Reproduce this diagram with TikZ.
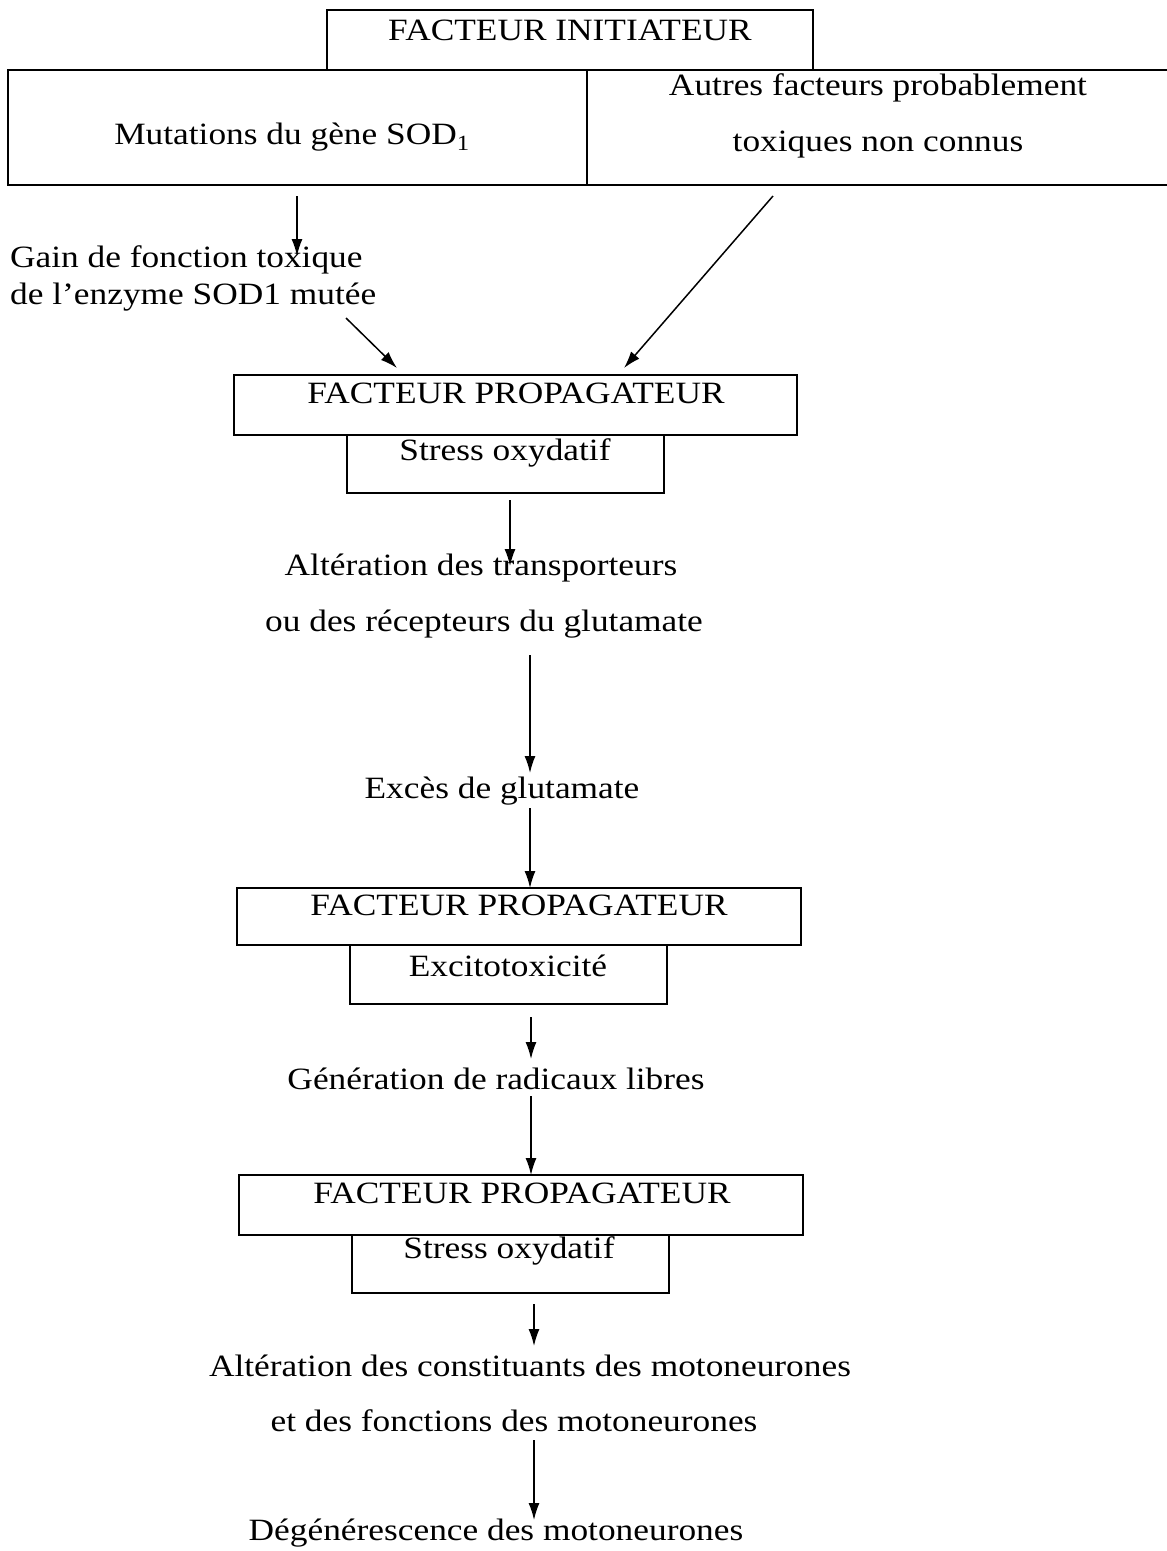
\documentclass[tikz,border=0pt]{standalone}
\usepackage{fontspec}
\setmainfont[FakeStretch=1.14]{Liberation Serif}
\usetikzlibrary{arrows.meta}
\begin{document}
\begin{tikzpicture}[x=1pt,y=-1pt,
  boxline/.style={draw=black,line width=1.9pt},
  txt/.style={inner sep=0pt,font=\fontsize{31}{36}\selectfont},
  arr/.style={line width=1.5pt,-{Latex[length=17pt,width=11pt]}}]
\useasboundingbox (0,0) rectangle (1167,1551);
% top boxes
\draw[boxline] (327,70) -- (327,10) -- (813,10) -- (813,70);
\draw[boxline] (8,70) rectangle (1175,185);
\draw[boxline] (587,70) -- (587,185);
\node[txt] (init) at (570,30) {FACTEUR INITIATEUR};
\node[txt] (mut) at (292,137) {Mutations du gène SOD\textsubscript{1}};
\node[txt] (autres1) at (878,88) {Autres facteurs probablement};
\node[txt] (autres2) at (878,145) {toxiques non connus};
% gain
\node[txt,anchor=west] (gain1) at (10,260) {Gain de fonction toxique};
\node[txt,anchor=west] (gain2) at (10,297) {de l'enzyme SOD1 mutée};
% propagator 1
\node[boxline,minimum width=563pt,minimum height=60pt,inner sep=0pt] (p1) at (515.5,405) {};
\node[boxline,minimum width=317pt,minimum height=58pt,inner sep=0pt] (s1) at (505.5,464) {};
\node[txt] (p1t) at (516,393) {FACTEUR PROPAGATEUR};
\node[txt] (s1t) at (505,453) {Stress oxydatif};
\node[txt] (alt1) at (481,568) {Altération des transporteurs};
\node[txt] (alt2) at (484,624) {ou des récepteurs du glutamate};
\node[txt] (exc) at (502,791) {Excès de glutamate};
% propagator 2
\node[boxline,minimum width=564pt,minimum height=57pt,inner sep=0pt] (p2) at (519,916.5) {};
\node[boxline,minimum width=317pt,minimum height=59pt,inner sep=0pt] (s2) at (508.5,974.5) {};
\node[txt] (p2t) at (519,905) {FACTEUR PROPAGATEUR};
\node[txt] (s2t) at (508,966) {Excitotoxicité};
\node[txt] (gen) at (496,1079) {Génération de radicaux libres};
% propagator 3
\node[boxline,minimum width=564pt,minimum height=60pt,inner sep=0pt] (p3) at (521,1205) {};
\node[boxline,minimum width=317pt,minimum height=58pt,inner sep=0pt] (s3) at (510.5,1264) {};
\node[txt] (p3t) at (522,1193) {FACTEUR PROPAGATEUR};
\node[txt] (s3t) at (509,1251) {Stress oxydatif};
\node[txt] (alt3) at (530,1366) {Altération des constituants des motoneurones};
\node[txt] (alt4) at (514,1421) {et des fonctions des motoneurones};
\node[txt] (deg) at (496,1533) {Dégénérescence des motoneurones};
% arrows
\coordinate (a1s) at (297,196); \coordinate (a1e) at (297,256);
\coordinate (a2s) at (346,318); \coordinate (a2e) at (397,368);
\coordinate (a3s) at (773,196); \coordinate (a3e) at (624,368);
\coordinate (a4s) at (510,500); \coordinate (a4e) at (510,566);
\coordinate (a5s) at (530,655); \coordinate (a5e) at (530,773);
\coordinate (a6s) at (530,808); \coordinate (a6e) at (530,888);
\coordinate (a7s) at (531,1017); \coordinate (a7e) at (531,1059);
\coordinate (a8s) at (531,1096); \coordinate (a8e) at (531,1175);
\coordinate (a9s) at (534,1304); \coordinate (a9e) at (534,1346);
\coordinate (a10s) at (534,1440); \coordinate (a10e) at (534,1520);
\foreach \i in {1,...,10} {\draw[arr] (a\i s) -- (a\i e);}
\end{tikzpicture}
\end{document}
